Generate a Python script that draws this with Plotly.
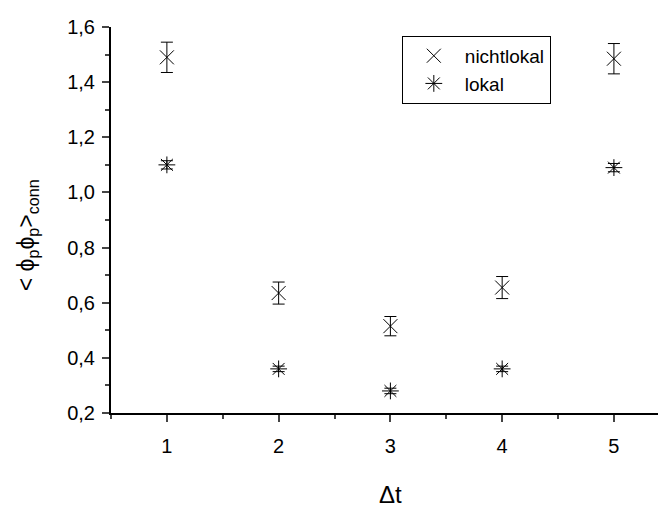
import plotly.graph_objects as go

dt = [1, 2, 3, 4, 5]
nichtlokal = [1.49, 0.635, 0.515, 0.655, 1.485]
nichtlokal_err = [0.055, 0.04, 0.035, 0.04, 0.055]
lokal = [1.10, 0.36, 0.28, 0.36, 1.09]
lokal_err = [0.015, 0.01, 0.01, 0.01, 0.015]

fig = go.Figure()
fig.add_trace(go.Scatter(
    x=dt, y=nichtlokal, mode="markers", name="nichtlokal",
    marker=dict(symbol="x-thin-open", size=14, color="black", line=dict(width=1, color="black")),
    error_y=dict(type="data", array=nichtlokal_err, color="black", thickness=1, width=6),
))
fig.add_trace(go.Scatter(
    x=dt, y=lokal, mode="markers", name="lokal",
    marker=dict(symbol="asterisk-open", size=14, color="black", line=dict(width=1, color="black")),
    error_y=dict(type="data", array=lokal_err, color="black", thickness=1, width=6),
))

font = "Liberation Sans, Arial, sans-serif"
fig.update_layout(
    width=658, height=500,
    margin=dict(l=103, r=0, t=19, b=95, autoexpand=False),
    plot_bgcolor="white", paper_bgcolor="white",
    font=dict(family=font, color="black", size=19),
    showlegend=True,
    legend=dict(x=0.524, y=0.977, xanchor="left", yanchor="top",
                bordercolor="black", borderwidth=1, bgcolor="white",
                font=dict(size=19, family=font), itemwidth=52, tracegroupgap=0),
    xaxis=dict(range=[0.5, 5.466], tickvals=dt, ticks="outside", ticklen=7, tickwidth=2,
               showline=True, linecolor="black", linewidth=2, showgrid=False, zeroline=False,
               automargin=False, tickfont=dict(size=20, family=font),
               minor=dict(dtick=0.5, tick0=0.5, ticks="outside", ticklen=4, tickwidth=2, showgrid=False),
               ticklabelstandoff=7),
    yaxis=dict(range=[0.2, 1.6], dtick=0.2, tick0=0.2, ticks="outside", ticklen=7, tickwidth=2,
               showline=True, linecolor="black", linewidth=2, showgrid=False, zeroline=False,
               automargin=False, tickformat=".1f", tickfont=dict(size=20, family=font),
               ticklabelstandoff=3,
               minor=dict(dtick=0.1, ticks="outside", ticklen=4, tickwidth=2, showgrid=False)),
    separators=",.",
    annotations=[
        dict(text="< ϕ<sub>p</sub>ϕ<sub>p</sub>><sub>conn</sub>", textangle=-90,
             xref="paper", yref="paper", x=-0.151, y=0.461, xanchor="center", yanchor="middle",
             showarrow=False, font=dict(size=23, family=font)),
        dict(text="Δt", xref="x", yref="paper", x=3, y=-0.21, xanchor="center", yanchor="middle",
             showarrow=False, font=dict(size=24, family=font)),
    ],
)

fig.write_html("out.html")
